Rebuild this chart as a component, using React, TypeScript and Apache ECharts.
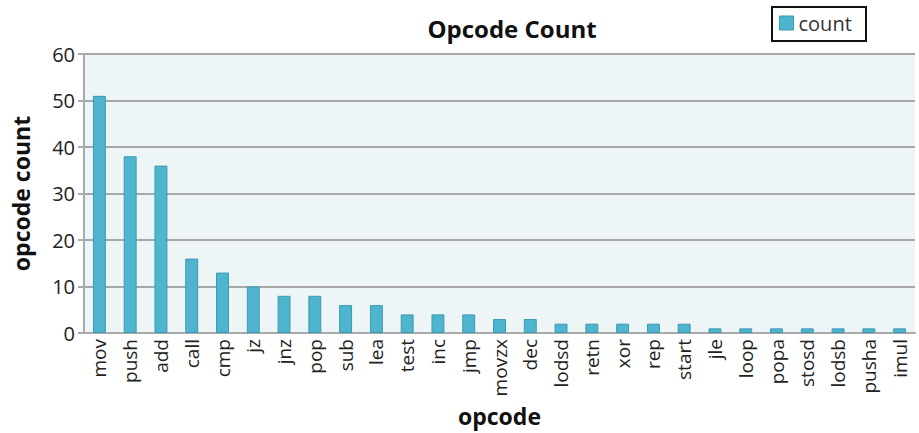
import React, { useEffect, useRef } from "react";
import * as echarts from "echarts";

const opcodes = [
  "mov", "push", "add", "call", "cmp", "jz", "jnz", "pop", "sub", "lea",
  "test", "inc", "jmp", "movzx", "dec", "lodsd", "retn", "xor", "rep", "start",
  "jle", "loop", "popa", "stosd", "lodsb", "pusha", "imul",
];
const counts = [
  51, 38, 36, 16, 13, 10, 8, 8, 6, 6,
  4, 4, 4, 3, 3, 2, 2, 2, 2, 2,
  1, 1, 1, 1, 1, 1, 1,
];
const yTicks = [0, 10, 20, 30, 40, 50, 60];

const FONT = "'Open Sans', 'Noto Sans', sans-serif";

// legend frame edges: [x1, y1, x2, y2]
const frameEdges = [
  [771, 7, 867, 7],
  [771, 41, 867, 41],
  [772, 6, 772, 42],
  [866, 6, 866, 42],
];

export default function App() {
  const ref = useRef<HTMLDivElement>(null);

  useEffect(() => {
    if (!ref.current) return;
    const chart = echarts.init(ref.current, undefined, { renderer: "svg" });
    chart.setOption({
      animation: false,
      backgroundColor: "#ffffff",
      textStyle: { fontFamily: FONT },
      title: {
        text: "Opcode Count",
        left: 507,
        top: 11,
        textAlign: "center",
        textStyle: { fontFamily: FONT, fontSize: 24, fontWeight: "bold", color: "#111" },
      },
      graphic: frameEdges.map(([x1, y1, x2, y2]) => ({
        type: "line",
        shape: { x1, y1, x2, y2 },
        style: { stroke: "#111", lineWidth: 2 },
        z: 20,
      })),
      legend: {
        data: ["count"],
        left: 779,
        top: 13,
        padding: 0,
        icon: "rect",
        itemWidth: 14,
        itemHeight: 14,
        itemGap: 4,
        itemStyle: { borderColor: "#3a9ab3", borderWidth: 1 },
        textStyle: { fontFamily: FONT, fontSize: 20, color: "#333" },
      },
      grid: {
        left: 84,
        right: 4,
        top: 54,
        bottom: 100,
        show: true,
        backgroundColor: "#eef5f6",
        borderWidth: 0,
      },
      xAxis: {
        type: "category",
        data: opcodes,
        name: "opcode",
        nameLocation: "middle",
        nameGap: 66,
        nameTextStyle: { fontFamily: FONT, fontSize: 23, fontWeight: "bold", color: "#111" },
        axisLine: { show: true, lineStyle: { color: "#aaaaaa", width: 2 } },
        axisTick: { show: false },
        axisLabel: {
          rotate: 90,
          interval: 0,
          margin: 6,
          fontFamily: FONT,
          fontSize: 19,
          color: "#222",
        },
      },
      yAxis: {
        type: "value",
        min: yTicks[0],
        max: yTicks[yTicks.length - 1],
        interval: 10,
        name: "opcode count",
        nameLocation: "middle",
        nameGap: 52,
        nameTextStyle: { fontFamily: FONT, fontSize: 23, fontWeight: "bold", color: "#111" },
        axisLine: { show: true, lineStyle: { color: "#aaaaaa", width: 2 } },
        axisTick: { show: true, length: 6, lineStyle: { color: "#aaaaaa", width: 2 } },
        axisLabel: { fontFamily: FONT, fontSize: 20, color: "#222", margin: 9 },
        splitLine: { show: true, lineStyle: { color: "#a8a8a8", width: 2 } },
      },
      series: [
        {
          name: "count",
          type: "bar",
          data: counts,
          barWidth: "42%",
          itemStyle: { color: "#4fb5cf", borderColor: "#3a9ab3", borderWidth: 1 },
        },
      ],
    });
    return () => chart.dispose();
  }, []);

  return (
    <div
      ref={ref}
      style={{ position: "fixed", left: 0, top: 0, width: 919, height: 433 }}
    />
  );
}
